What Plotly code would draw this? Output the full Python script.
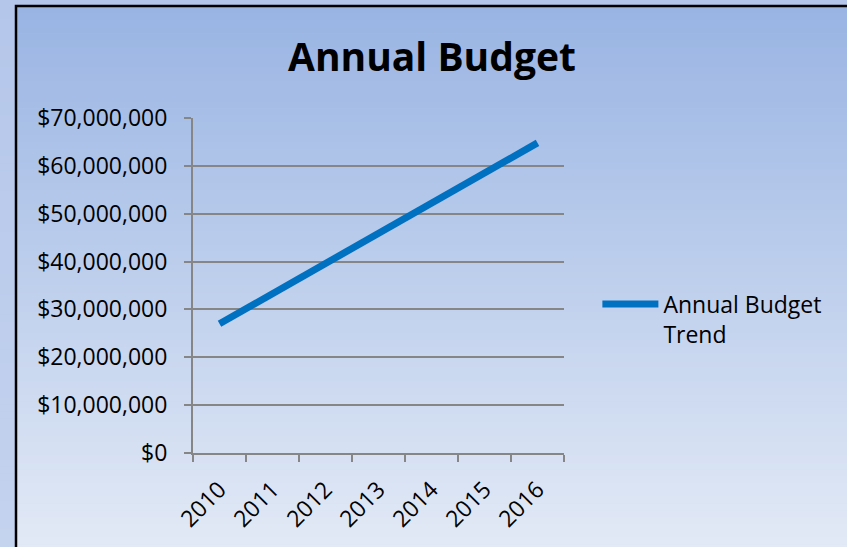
import plotly.graph_objects as go

years = ["2010", "2011", "2012", "2013", "2014", "2015", "2016"]
budget = [27000000, 33300000, 39600000, 45900000, 52200000, 58500000, 64800000]
series_name = "Annual Budget<br>Trend"
title_text = "Annual Budget"

W, H = 847, 547
ML, MR, MT, MB = 193, 283, 118, 94
PW = W - ML - MR
PH = H - MT - MB


def px_x(px):
    return (px - ML) / PW


def px_y(py):
    return (H - MB - py) / PH


def mix(c1, c2, t):
    return "rgb(%d,%d,%d)" % tuple(round(a + (b - a) * t) for a, b in zip(c1, c2))


shapes = []
N = 80
outer_top, outer_bot = (180, 198, 234), (196, 211, 238)
inner_top, inner_bot = (153, 180, 227), (227, 234, 246)
for i in range(N):
    t0 = i / N
    t1 = (i + 1) / N
    y0 = -2 + t0 * (H + 4)
    y1 = -2 + t1 * (H + 4) + 0.5
    shapes.append(dict(type="rect", xref="paper", yref="paper", layer="below",
                       x0=px_x(-2), x1=px_x(W + 2), y0=px_y(y1), y1=px_y(y0),
                       fillcolor=mix(outer_top, outer_bot, (t0 + t1) / 2), line=dict(width=0)))
for i in range(N):
    t0 = i / N
    t1 = (i + 1) / N
    y0 = 6 + t0 * (H + 4 - 6)
    y1 = 6 + t1 * (H + 4 - 6) + 0.5
    shapes.append(dict(type="rect", xref="paper", yref="paper", layer="below",
                       x0=px_x(16), x1=px_x(W + 2), y0=px_y(y1), y1=px_y(y0),
                       fillcolor=mix(inner_top, inner_bot, (t0 + t1) / 2), line=dict(width=0)))
shapes.append(dict(type="rect", xref="paper", yref="paper", layer="below",
                   x0=px_x(16), x1=px_x(W + 10), y0=px_y(H + 10), y1=px_y(6),
                   fillcolor="rgba(0,0,0,0)", line=dict(color="black", width=2.5)))

fig = go.Figure()
fig.add_trace(go.Scatter(x=years, y=budget, mode="lines", name=series_name,
                         line=dict(color="#0070C0", width=7), showlegend=True))

axis_gray = "#868686"
fig.update_layout(
    width=W, height=H,
    margin=dict(l=ML, r=MR, t=MT, b=MB),
    paper_bgcolor="rgb(188,204,236)",
    plot_bgcolor="rgba(0,0,0,0)",
    font=dict(family="Open Sans", size=23, color="black"),
    title=dict(text="<b>" + title_text + "</b>", x=0.51, xref="container", xanchor="center",
               y=1 - 57 / H, yref="container", yanchor="middle",
               font=dict(family="Open Sans", size=39, color="black")),
    shapes=shapes,
    showlegend=True,
    legend=dict(x=1.09, xanchor="left", y=0.40, yanchor="middle", valign="top",
                bgcolor="rgba(0,0,0,0)", font=dict(size=23), itemwidth=56),
    xaxis=dict(type="category", range=[-0.5, 6.5], tickson="boundaries",
               ticks="outside", ticklen=7, tickwidth=2, tickcolor=axis_gray,
               showline=True, linecolor=axis_gray, linewidth=2,
               showgrid=False, zeroline=False, tickangle=-45,
               ticklabelstandoff=12, tickfont=dict(size=23)),
    yaxis=dict(range=[0, 70000000], dtick=10000000, tickprefix="$", tickformat=",d",
               ticks="outside", ticklen=7, tickwidth=2, tickcolor=axis_gray,
               showline=True, linecolor=axis_gray, linewidth=2,
               showgrid=True, gridcolor=axis_gray, gridwidth=1.5,
               zeroline=False, ticklabelstandoff=12, tickfont=dict(size=23)),
)

fig.write_html("out.html", config={"displayModeBar": False},
               post_script="document.body.style.margin='0';document.body.style.overflow='hidden';")
